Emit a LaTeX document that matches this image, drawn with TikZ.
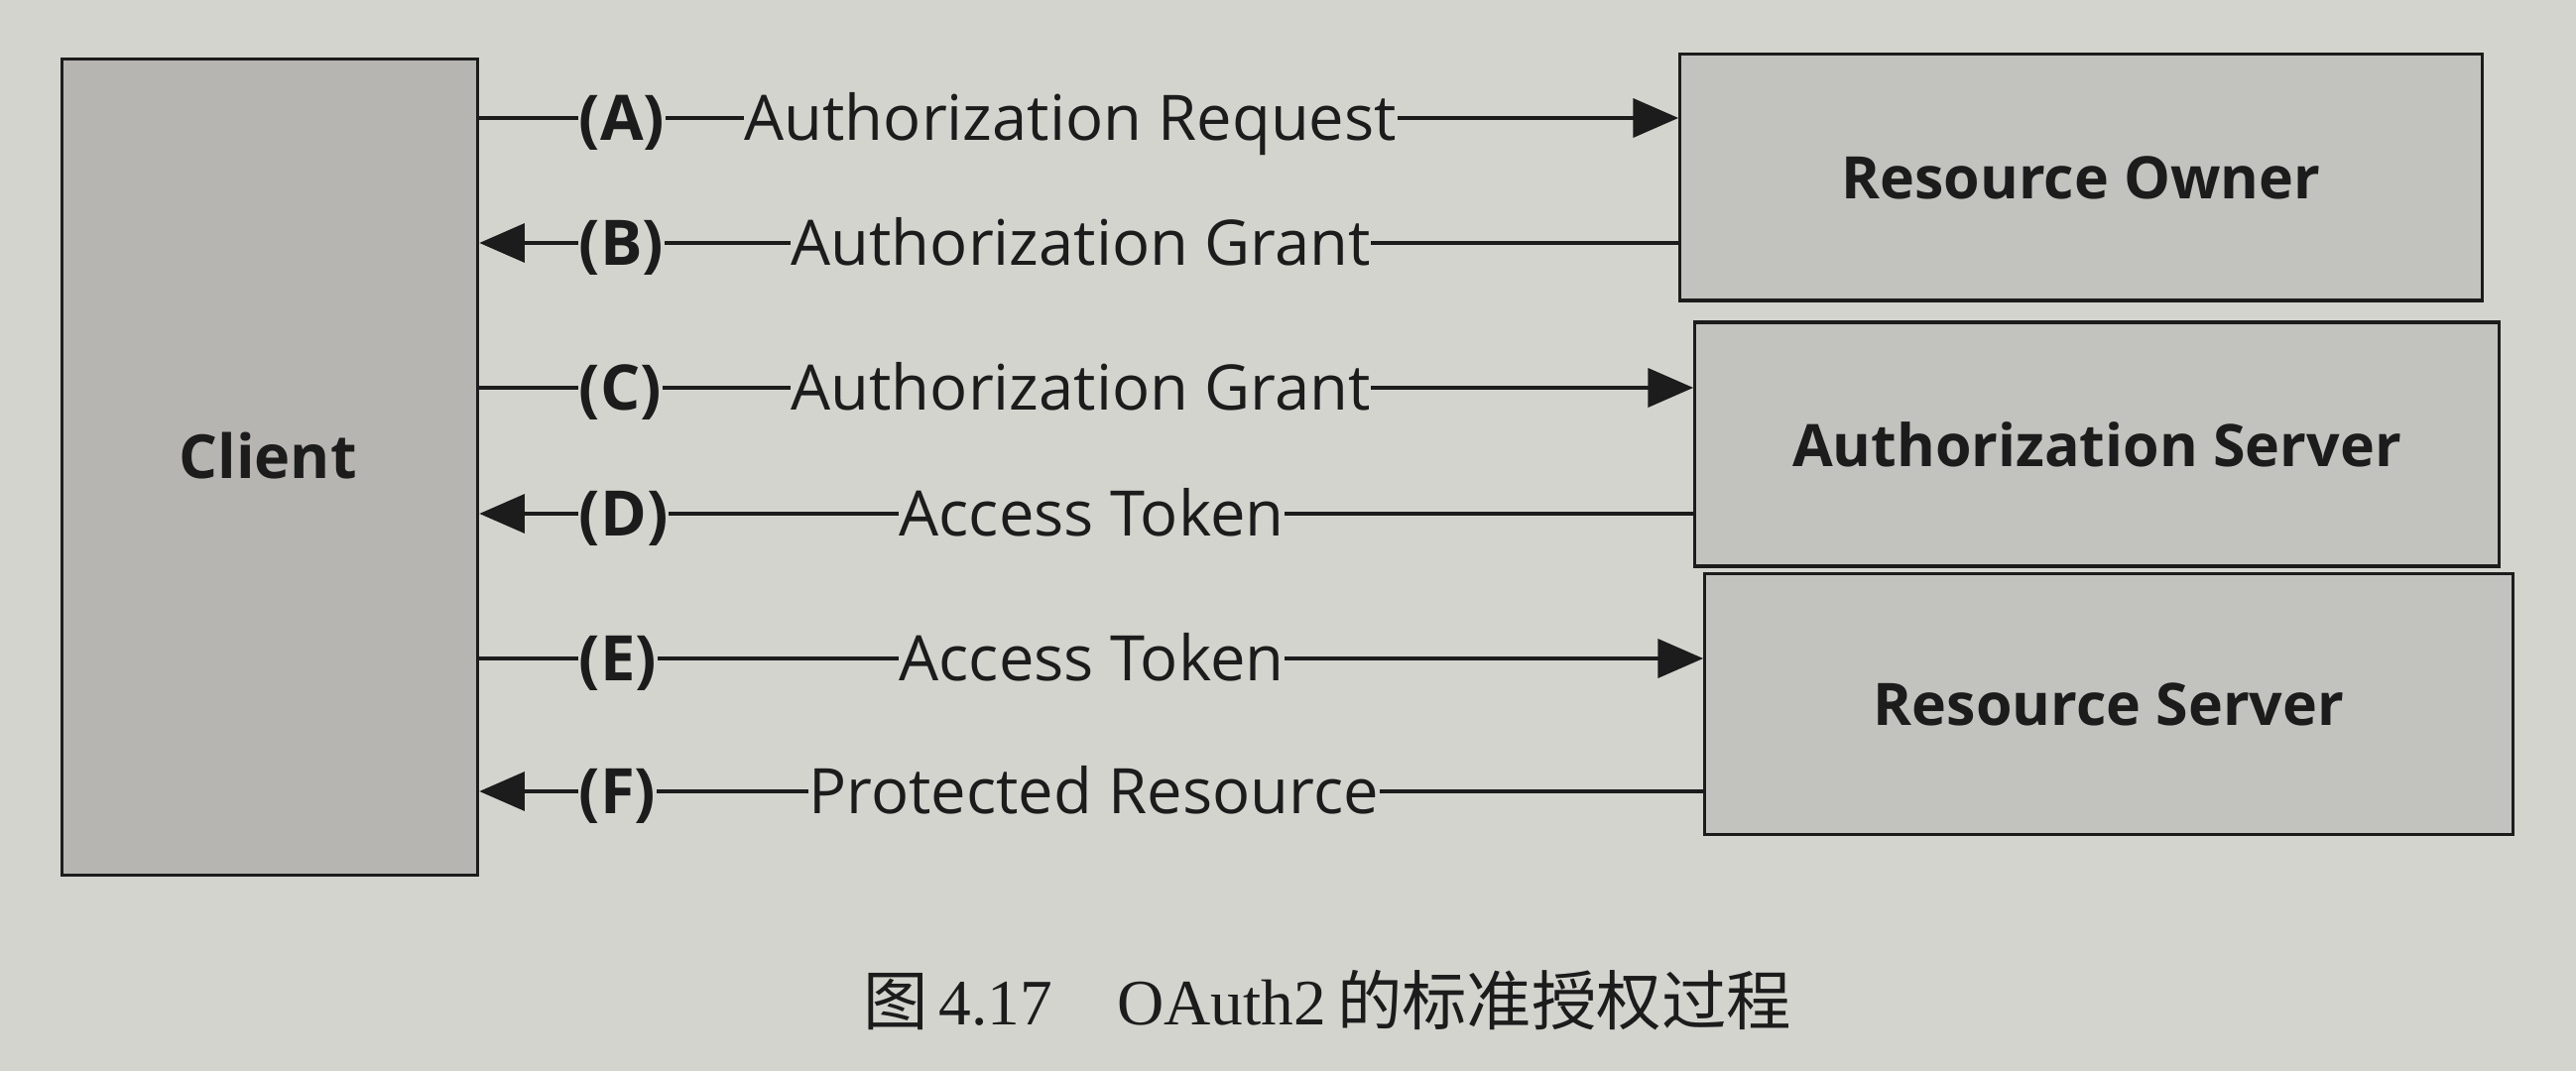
\documentclass[tikz,border=0pt]{standalone}
\usepackage{fontspec}
\setmainfont{Open Sans}
\newfontfamily\cjk{Noto Sans CJK SC}
\newfontfamily\capserif{Liberation Serif}
\usetikzlibrary{arrows.meta}

\definecolor{paper}{RGB}{212,212,207}
\definecolor{boxfill}{RGB}{194,194,191}
\definecolor{clientfill}{RGB}{182,181,178}
\definecolor{ink}{RGB}{28,28,28}

\tikzset{
  party/.style={draw=ink, line width=0.9pt, fill=boxfill, inner sep=0pt,
    font=\fontsize{16.8}{20}\selectfont\bfseries, text=ink},
  tag/.style={inner sep=0pt, anchor=west, text height=14.6pt, text depth=2pt,
    font=\fontsize{18}{20}\selectfont\bfseries, text=ink},
  msg/.style={inner sep=0pt, anchor=west, text height=14.6pt, text depth=2pt,
    font=\fontsize{18}{20}\selectfont, text=ink},
  flow/.style={draw=ink, line width=1.3pt},
  flowto/.style={flow, -{Triangle[length=13pt,width=11pt]}},
}

\begin{document}
\begin{tikzpicture}[x=0.01cm, y=-0.01cm]
  \useasboundingbox (0,0) rectangle (2597,1080);
  \fill[paper] (0,0) rectangle (2597,1080);

  % participants
  \node[party, fill=clientfill, minimum width=4.19cm, minimum height=8.23cm] (client) at (272,471) {};
  \node[text=ink, font=\fontsize{17.4}{20}\selectfont\bfseries] (clientlbl) at (270,460) {Client};
  \node[party, minimum width=8.08cm, minimum height=2.48cm] (ro) at (2098,179) {Resource Owner};
  \node[party, minimum width=8.10cm, minimum height=2.46cm] (as) at (2114,448) {Authorization Server};
  \node[party, minimum width=8.14cm, minimum height=2.63cm] (rs) at (2126,710) {Resource Server};

  % message labels
  \node[tag] (tA) at (583,119) {(A)};
  \node[msg] (mA) at (750,119) {Authorization Request};
  \node[tag] (tB) at (583,245) {(B)};
  \node[msg] (mB) at (797,245) {Authorization Grant};
  \node[tag] (tC) at (583,391) {(C)};
  \node[msg] (mC) at (797,391) {Authorization Grant};
  \node[tag] (tD) at (583,518) {(D)};
  \node[msg] (mD) at (906,518) {Access Token};
  \node[tag] (tE) at (583,664) {(E)};
  \node[msg] (mE) at (906,664) {Access Token};
  \node[tag] (tF) at (583,798) {(F)};
  \node[msg] (mF) at (815,798) {Protected Resource};

  % (A) client -> resource owner
  \draw[flow] (client.east |- tA.west) -- (tA.west);
  \draw[flow] (tA.east) -- (mA.west);
  \draw[flowto] (mA.east) -- (ro.west |- mA.east);
  % (B) resource owner -> client
  \draw[flow] (ro.west |- mB.east) -- (mB.east);
  \draw[flow] (mB.west) -- (tB.east);
  \draw[flowto] (tB.west) -- (client.east |- tB.west);
  % (C) client -> authorization server
  \draw[flow] (client.east |- tC.west) -- (tC.west);
  \draw[flow] (tC.east) -- (mC.west);
  \draw[flowto] (mC.east) -- (as.west |- mC.east);
  % (D) authorization server -> client
  \draw[flow] (as.west |- mD.east) -- (mD.east);
  \draw[flow] (mD.west) -- (tD.east);
  \draw[flowto] (tD.west) -- (client.east |- tD.west);
  % (E) client -> resource server
  \draw[flow] (client.east |- tE.west) -- (tE.west);
  \draw[flow] (tE.east) -- (mE.west);
  \draw[flowto] (mE.east) -- (rs.west |- mE.east);
  % (F) resource server -> client
  \draw[flow] (rs.west |- mF.east) -- (mF.east);
  \draw[flow] (mF.west) -- (tF.east);
  \draw[flowto] (tF.west) -- (client.east |- tF.west);

  % caption
  \node[text=ink, font=\fontsize{18.6}{22}\selectfont] (caption) at (1338,1009)
    {{\cjk 图}\,{\capserif 4.17\hspace{1em}OAuth2}\,{\cjk 的标准授权过程}};
\end{tikzpicture}
\end{document}
